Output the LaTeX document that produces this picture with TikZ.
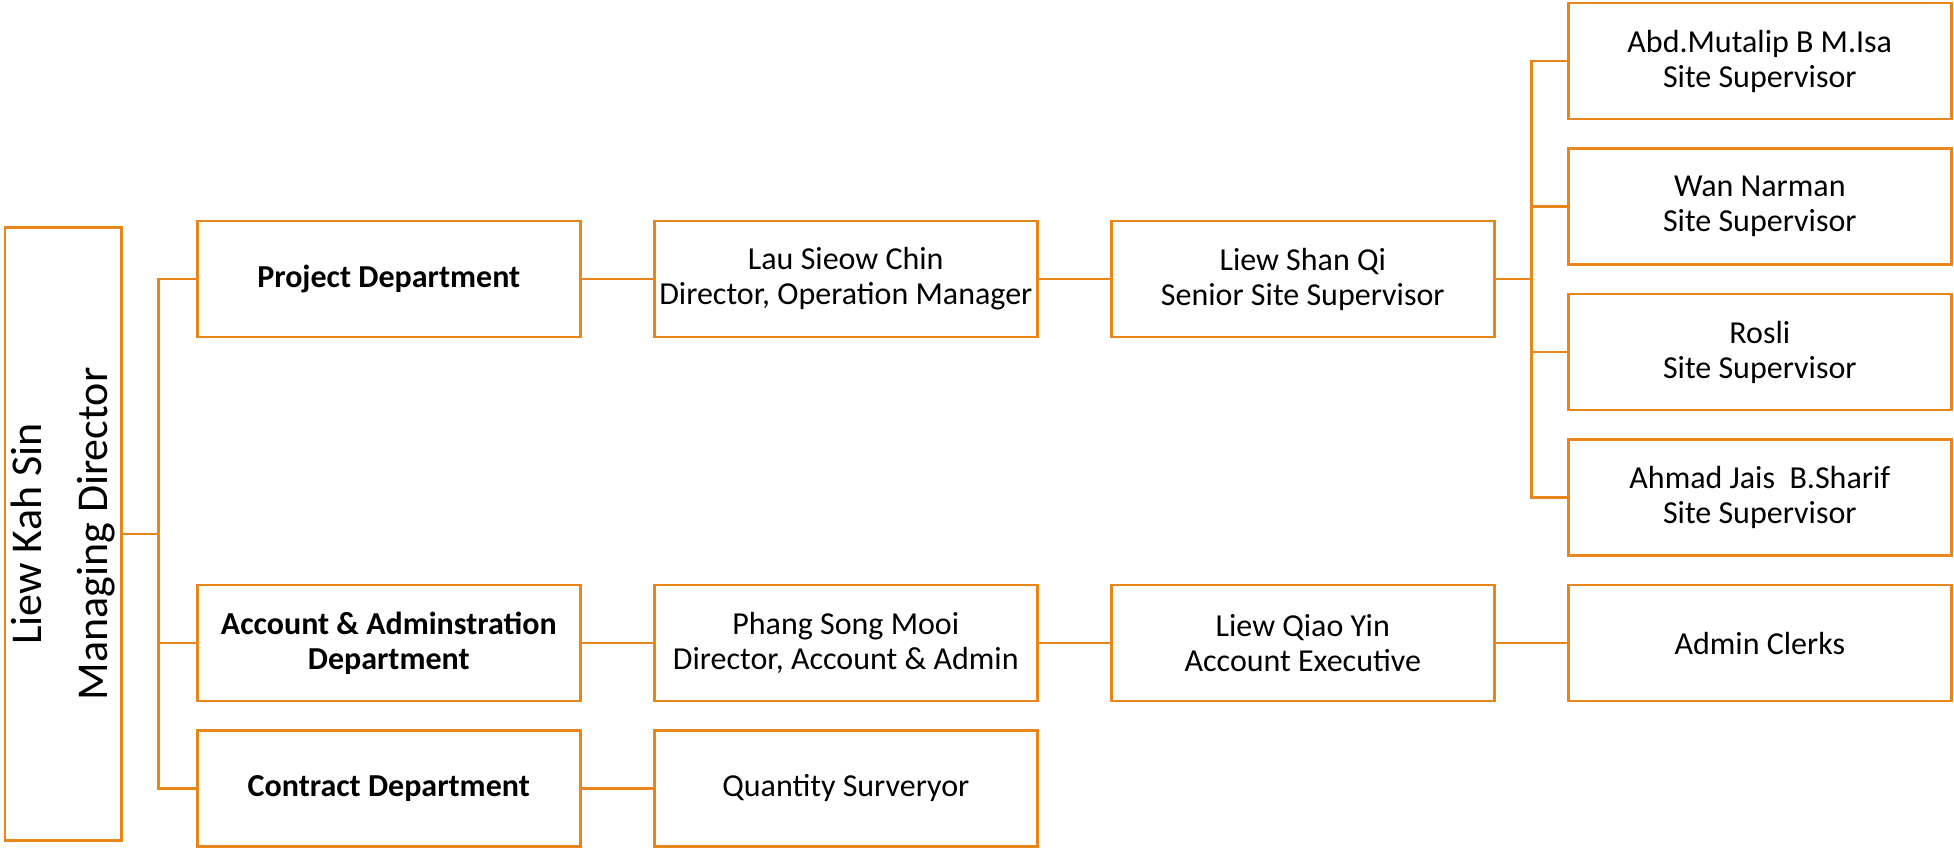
\documentclass[tikz,border=0pt]{standalone}
\usepackage{fontspec}
\setmainfont{Carlito}
\usetikzlibrary{positioning}
\definecolor{chartorange}{RGB}{232,134,28}

\begin{document}
\begin{tikzpicture}[node distance=72.75pt and 228.5pt,on grid,
	box/.style={draw=chartorange,line width=1.4pt,minimum width=191.5pt,minimum height=58pt,
		align=center,inner sep=2pt,font=\fontsize{16}{17.5}\selectfont},
	dept/.style={box,font=\fontsize{16}{17.5}\selectfont\bfseries},
	link/.style={draw=chartorange,line width=1.4pt}]
	\useasboundingbox (-194.4pt,139.5pt) rectangle (782.6pt,-284.5pt);

	\node[dept] (proj) {Project Department};
	\node[box] (lau) [right=of proj] {Lau Sieow Chin\\Director, Operation Manager};
	\node[box] (shan) [right=of lau] {Liew Shan Qi\\Senior Site Supervisor};
	\node[dept] (acct) [below=182pt of proj] {Account \& Adminstration\\Department};
	\node[dept] (cont) [below=of acct] {Contract Department};
	\node[box] (phang) [right=of acct] {Phang Song Mooi\\Director, Account \& Admin};
	\node[box] (qiao) [right=of phang] {Liew Qiao Yin\\Account Executive};
	\node[box] (clerks) [right=of qiao] {Admin Clerks};
	\node[box] (quant) [right=of cont] {Quantity Surveryor};
	\node[box] (sup4) [above=of clerks] {Ahmad Jais\ \ B.Sharif\\Site Supervisor};
	\node[box] (sup3) [above=of sup4] {Rosli\\Site Supervisor};
	\node[box] (sup2) [above=of sup3] {Wan Narman\\Site Supervisor};
	\node[box] (sup1) [above=of sup2] {Abd.Mutalip B M.Isa\\Site Supervisor};
	\node[box,rotate=90,minimum width=306.5pt,minimum height=58.3pt,inner sep=0pt,
		font=\fontsize{22}{33}\selectfont] (md) at (-162.7pt,-127.5pt) {Liew Kah Sin\\Managing Director};

	\coordinate[left=18.5pt of proj.west] (deptbus);
	\coordinate[right=18pt of shan.east] (supbus);

	% managing director to departments
	\path[link]
		(md.south) -- (md.south -| deptbus)
		(proj.west) -- (deptbus) |- (cont.west)
		(deptbus |- acct.west) -- (acct.west);

	% rows
	\path[link]
		(proj.east) -- (lau.west)
		(lau.east) -- (shan.west)
		(acct.east) -- (phang.west)
		(phang.east) -- (qiao.west)
		(qiao.east) -- (clerks.west)
		(cont.east) -- (quant.west);

	% site supervisors
	\path[link]
		(shan.east) -- (supbus)
		(sup1.west) -| (supbus) |- (sup4.west)
		(supbus |- sup2.west) -- (sup2.west)
		(supbus |- sup3.west) -- (sup3.west);
\end{tikzpicture}
\end{document}
